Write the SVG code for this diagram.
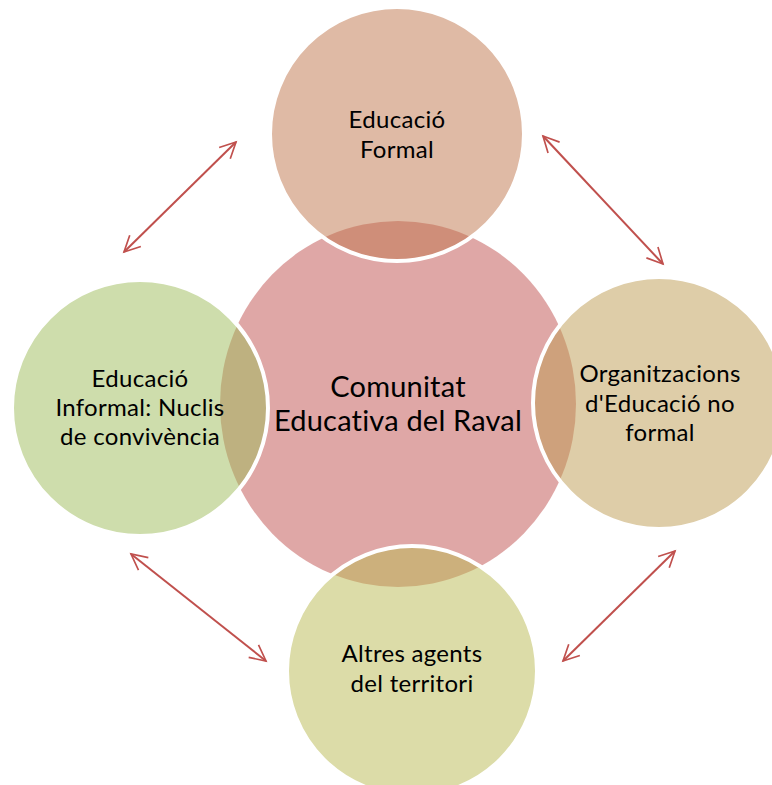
<svg xmlns="http://www.w3.org/2000/svg" width="772" height="785" viewBox="0 0 772 785">
<defs>
<style>
.sat{stroke:#FFFFFF;stroke-width:4;fill-opacity:0.5}
.t{font-family:Lato,"Open Sans","Liberation Sans",sans-serif;font-size:24px;letter-spacing:0.3px;fill:#000;text-anchor:middle}
.tc{font-family:Lato,"Open Sans","Liberation Sans",sans-serif;font-size:29px;letter-spacing:0.2px;fill:#000;text-anchor:middle}
.arr{stroke:#C0504D;stroke-width:2;fill:none;marker-start:url(#ah);marker-end:url(#ah)}
</style>
<marker id="ah" viewBox="0 0 12 12" refX="10" refY="6" markerWidth="10" markerHeight="10" markerUnits="userSpaceOnUse" orient="auto-start-reverse" overflow="visible">
<path d="M-9,-3.5 L10,6 L-9,15.5" fill="none" stroke="#C0504D" stroke-width="2"/>
</marker>
</defs>
<g id="center">
<ellipse cx="398" cy="404" rx="178" ry="183" fill="#C0504D" fill-opacity="0.5"/>
</g>
<g id="top">
<circle class="sat" cx="397" cy="134" r="127" fill="#BF754B"/>
</g>
<g id="left">
<circle class="sat" cx="140" cy="408" r="128" fill="#9DBB59"/>
</g>
<g id="right">
<circle class="sat" cx="659" cy="403" r="126" fill="#BD9B51"/>
</g>
<g id="bottom">
<circle class="sat" cx="412" cy="671" r="125" fill="#B9B951"/>
</g>
<g id="labels">
<text class="tc" x="398" y="397">Comunitat</text>
<text class="tc" x="398" y="431">Educativa del Raval</text>
<text class="t" x="397" y="128">Educació</text>
<text class="t" x="397" y="158">Formal</text>
<text class="t" x="140" y="387">Educació</text>
<text class="t" x="140" y="416">Informal: Nuclis</text>
<text class="t" x="140" y="445">de convivència</text>
<text class="t" x="660" y="382">Organitzacions</text>
<text class="t" x="660" y="412">d'Educació no</text>
<text class="t" x="660" y="441">formal</text>
<text class="t" x="412" y="662">Altres agents</text>
<text class="t" x="412" y="692">del territori</text>
</g>
<g id="connectors">
<line class="arr" x1="124" y1="252" x2="236" y2="142"/>
<line class="arr" x1="543" y1="136" x2="663" y2="264"/>
<line class="arr" x1="131" y1="554" x2="266" y2="661"/>
<line class="arr" x1="563" y1="661" x2="675" y2="551"/>
</g>
</svg>
